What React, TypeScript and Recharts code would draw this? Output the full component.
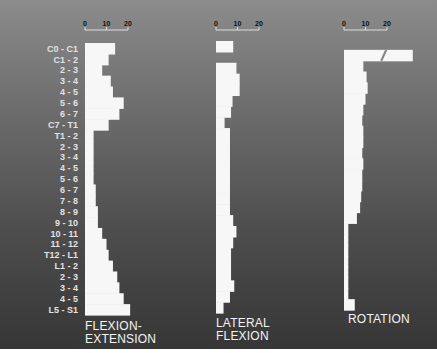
import { Bar, BarChart, XAxis, YAxis } from 'recharts'

const segments = [
    'C0 - C1', 'C1 - 2', '2 - 3', '3 - 4', '4 - 5', '5 - 6', '6 - 7', 'C7 - T1',
    'T1 - 2', '2 - 3', '3 - 4', '4 - 5', '5 - 6', '6 - 7', '7 - 8', '8 - 9', '9 - 10',
    '10 - 11', '11 - 12', 'T12 - L1', 'L1 - 2', '2 - 3', '3 - 4', '4 - 5', 'L5 - S1',
]

const flexionExtension = [14, 11, 8, 12, 13, 18, 16, 11, 4, 4, 4, 4, 4, 5, 5, 6, 6, 8, 10, 11, 13, 15, 16, 18, 21]
const lateralFlexion = [8, 0, 9.5, 11, 11, 7.7, 7, 4, 6.5, 6.5, 6.5, 6.5, 6.5, 6.5, 6.5, 6.5, 8, 9.5, 8, 7, 7, 7, 8.5, 6.5, 3.5]
const rotation = [0, 32, 9, 10.5, 11, 10, 9, 8.5, 9, 9, 8.5, 9, 8.5, 8.5, 8, 7.5, 6, 2, 2, 2, 2, 2, 2, 2, 5]
const rotationBroken = 1 // C1-2 bar is drawn cut off

const scaleTicks = [0, 10, 20]

const rows = segments.map((label, i) => ({
    id: i,
    label,
    fe: flexionExtension[i],
    lf: lateralFlexion[i],
    rot: rotation[i],
}))

const BAR = '#f7f7f7'
const FONT = '"Liberation Sans", Arial, sans-serif'

type PanelProps = {
    dataKey: string
    plotLeft: number
    barTop: number
    barBottom: number
    labels?: boolean
    broken?: number
}

const Panel = ({ dataKey, plotLeft, barTop, barBottom, labels, broken }: PanelProps) => {
    const axisW = labels ? 85 : 0
    const pad = 8
    const plotW = 86
    const axisTop = 30

    // bars fill the whole band so the column reads as one stepped shape
    const shape = (props: any) => {
        const { x, width, index, background } = props
        const y = background ? background.y : props.y
        const height = background ? background.height : props.height
        if (!width) return <g />
        return (
            <g>
                <rect x={x} y={y} width={width} height={height + 0.5} fill={BAR} />
                {index === broken && (
                    <line
                        x1={x + width * 0.57 - 2}
                        y1={y + height}
                        x2={x + width * 0.57 + 3}
                        y2={y}
                        stroke="#878787"
                        strokeWidth={2.2}
                    />
                )}
            </g>
        )
    }

    return (
        <div style={{ position: 'absolute', left: plotLeft - axisW - pad, top: 0 }}>
            <BarChart
                width={pad + axisW + plotW + 4}
                height={353}
                data={rows}
                layout="vertical"
                barCategoryGap={0}
                margin={{ top: 0, right: 4, bottom: 353 - barBottom, left: pad }}
            >
                <XAxis
                    type="number"
                    orientation="top"
                    domain={[0, 40]}
                    ticks={scaleTicks}
                    interval={0}
                    height={axisTop}
                    axisLine={{ stroke: '#dcdcdc', strokeWidth: 1, strokeDasharray: '43 200' }}
                    tickLine={{ stroke: '#dcdcdc' }}
                    tickSize={3}
                    tickMargin={1}
                    tick={{ fill: '#111', fontSize: 7, fontFamily: FONT, fontWeight: 700 }}
                />
                <YAxis
                    type="category"
                    dataKey="id"
                    hide={!labels}
                    width={axisW}
                    padding={{ top: barTop - axisTop, bottom: 0 }}
                    axisLine={false}
                    tickLine={false}
                    tickSize={0}
                    tickMargin={7}
                    interval={0}
                    tickFormatter={(v: number) => segments[v]}
                    tick={{ fill: '#e2e2e2', fontSize: 9, fontFamily: FONT, fontWeight: 700 }}
                />
                <Bar dataKey={dataKey} isAnimationActive={false} shape={shape} />
            </BarChart>
        </div>
    )
}

const titleStyle = {
    position: 'absolute' as const,
    color: '#f4f4f4',
    fontFamily: FONT,
    fontSize: 12,
    lineHeight: '13px',
    letterSpacing: 0.2,
}

export default function App() {
    return (
        <div
            style={{
                position: 'relative',
                width: 437,
                height: 353,
                background: '#fff',
                overflow: 'hidden',
            }}
        >
            <style>{'body{margin:0}'}</style>
            <div
                style={{
                    position: 'absolute',
                    left: 0,
                    top: 0,
                    width: 437,
                    height: 349,
                    background: 'linear-gradient(to bottom, #8c8c8c 0%, #6e6e6e 30%, #4e4e4e 65%, #363636 100%)',
                }}
            />
            <Panel dataKey="fe" plotLeft={85} barTop={43} barBottom={315} labels />
            <Panel dataKey="lf" plotLeft={216} barTop={41} barBottom={313} />
            <Panel dataKey="rot" plotLeft={344} barTop={39} barBottom={310} broken={rotationBroken} />
            <div style={{ ...titleStyle, left: 85, top: 320 }}>FLEXION-<br />EXTENSION</div>
            <div style={{ ...titleStyle, left: 216, top: 317 }}>LATERAL<br />FLEXION</div>
            <div style={{ ...titleStyle, left: 348, top: 313 }}>ROTATION</div>
        </div>
    )
}
